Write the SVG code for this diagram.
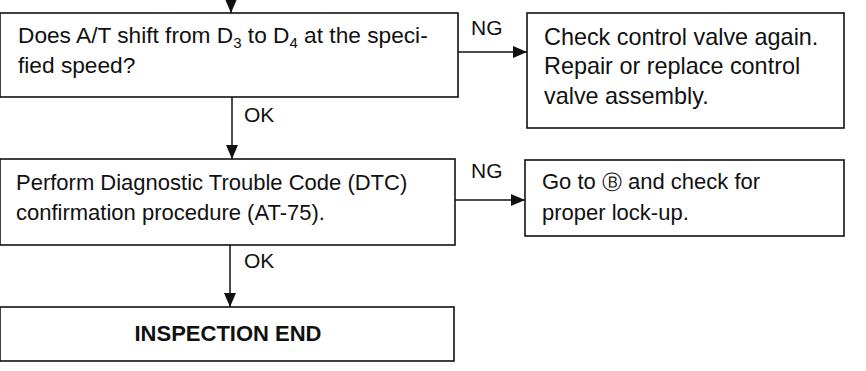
<svg xmlns="http://www.w3.org/2000/svg" width="866" height="371" viewBox="0 0 866 371">
<style>
.box{fill:#fff;stroke:#111;stroke-width:1.6}
.t{font-family:"Liberation Sans",Arial,sans-serif;font-size:22px;fill:#111}
.t2{font-size:22.7px}
.t3{font-size:23.4px}
.sub{font-size:15px}
.b{font-weight:bold;text-anchor:middle}
.lbl{font-family:"Liberation Sans",Arial,sans-serif;font-size:21px;fill:#111}
.c{stroke:#111;stroke-width:1.5;fill:none;marker-end:url(#ah)}
</style>
<defs>
<marker id="ah" markerUnits="userSpaceOnUse" markerWidth="14" markerHeight="12" refX="14" refY="6" orient="auto">
<path d="M0,0 L14,6 L0,12 Z" fill="#111"/>
</marker>
</defs>
<rect width="866" height="371" fill="#fff"/>
<g id="connectors">
<line class="c" x1="231" y1="-2" x2="231" y2="13"/>
<line class="c" x1="458" y1="52" x2="527" y2="52"/>
<line class="c" x1="232" y1="97" x2="232" y2="159"/>
<line class="c" x1="455" y1="200" x2="525" y2="200"/>
<line class="c" x1="230" y1="245" x2="230" y2="307"/>
<text class="lbl" x="471" y="35">NG</text>
<text class="lbl" x="244" y="122">OK</text>
<text class="lbl" x="471" y="178">NG</text>
<text class="lbl" x="244" y="268">OK</text>
</g>
<g id="q1">
<rect class="box" x="0" y="13" width="458" height="84"/>
<text class="t t2" x="18" y="43">Does A/T shift from D<tspan class="sub" dy="5">3</tspan><tspan dy="-5"> to D</tspan><tspan class="sub" dy="5">4</tspan><tspan dy="-5"> at the speci-</tspan></text>
<text class="t t2" x="18" y="73">fied speed?</text>
</g>
<g id="ng1">
<rect class="box" x="527" y="13" width="317" height="115"/>
<text class="t t3" x="544" y="45">Check control valve again.</text>
<text class="t t3" x="544" y="74">Repair or replace control</text>
<text class="t t3" x="544" y="104">valve assembly.</text>
</g>
<g id="q2">
<rect class="box" x="0" y="159" width="455" height="86"/>
<text class="t" x="16" y="190">Perform Diagnostic Trouble Code (DTC)</text>
<text class="t" x="16" y="220">confirmation procedure (AT-75).</text>
</g>
<g id="ng2">
<rect class="box" x="525" y="160" width="319" height="76"/>
<text class="t" x="542" y="189">Go to <tspan style="font-family:'DejaVu Sans',sans-serif;font-size:20px">Ⓑ</tspan> and check for</text>
<text class="t" x="542" y="220">proper lock-up.</text>
</g>
<g id="end">
<rect class="box" x="0" y="307" width="454" height="54"/>
<text class="t b" x="228" y="341">INSPECTION END</text>
</g>
</svg>
